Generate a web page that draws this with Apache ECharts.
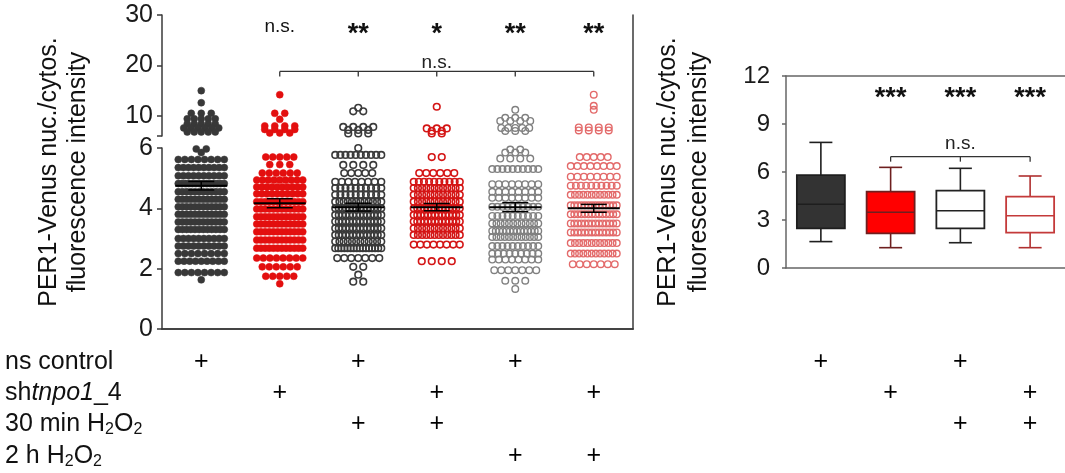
<!DOCTYPE html>
<html><head><meta charset="utf-8">
<script src="https://cdn.jsdelivr.net/npm/echarts@6/dist/echarts.min.js"></script>
<style>html,body{margin:0;padding:0;background:#fff}#c{width:1065px;height:473px}</style>
</head><body><div id="c"></div>
<script>
// ---------------- DATA ----------------
const groups = ['ns control', 'shtnpo1_4', 'ns control + 30 min H2O2', 'shtnpo1_4 + 30 min H2O2', 'ns control + 2 h H2O2', 'shtnpo1_4 + 2 h H2O2'];

// beeswarm rows: value of each row and number of cells in it
const g1Values = [15.0, 12.6, 10.5, 9.4, 8.4, 7.6, 6.8, 5.97, 5.85, 5.62, 5.35, 5.08, 4.82, 4.55, 4.3, 4.05, 3.8, 3.55, 3.3, 3.0, 2.75, 2.5, 2.25, 1.87, 1.63];
const g1Counts = [1, 1, 3, 5, 5, 6, 5, 2, 1, 8, 10, 10, 14, 12, 12, 12, 12, 12, 12, 10, 10, 8, 9, 8, 1];

const g2Values = [14.2, 10.5, 9.3, 8.0, 7.3, 6.6, 5.7, 5.45, 5.17, 4.94, 4.71, 4.48, 4.22, 3.98, 3.72, 3.48, 3.22, 2.95, 2.68, 2.35, 2.06, 1.75, 1.5];
const g2Counts = [1, 2, 1, 4, 4, 3, 5, 3, 6, 9, 10, 10, 12, 12, 12, 12, 12, 12, 12, 8, 6, 5, 1];

const g3Values = [11.6, 10.9, 7.8, 7.2, 6.5, 6.0, 5.77, 5.44, 5.17, 4.88, 4.67, 4.45, 4.22, 4.0, 3.78, 3.56, 3.34, 3.12, 2.9, 2.68, 2.35, 2.06, 1.8, 1.57];
const g3Counts = [1, 2, 4, 3, 3, 1, 10, 4, 5, 8, 10, 10, 12, 14, 14, 14, 14, 14, 12, 16, 7, 2, 1, 2];

const g4Values = [11.8, 7.5, 7.0, 6.5, 5.7, 5.17, 4.88, 4.67, 4.45, 4.22, 4.0, 3.78, 3.56, 3.34, 3.12, 2.8, 2.25];
const g4Counts = [1, 3, 2, 2, 2, 6, 10, 12, 12, 12, 14, 14, 14, 12, 12, 8, 4];

const g5Values = [11.2, 9.6, 9.0, 7.6, 7.0, 5.95, 5.85, 5.65, 5.3, 4.8, 4.55, 4.35, 4.05, 3.75, 3.5, 3.25, 3.05, 2.75, 2.5, 2.3, 1.95, 1.6, 1.33];
const g5Counts = [1, 3, 4, 5, 3, 2, 3, 4, 10, 8, 8, 8, 10, 10, 12, 14, 12, 10, 9, 8, 7, 3, 1];

const g6Values = [14.2, 12.0, 11.2, 7.7, 7.1, 5.7, 5.4, 5.05, 4.75, 4.45, 4.1, 3.8, 3.5, 3.2, 2.85, 2.5, 2.15];
const g6Counts = [1, 1, 1, 4, 4, 5, 8, 8, 10, 12, 14, 14, 14, 14, 12, 12, 7];

const means = [4.75, 4.17, 4.04, 4.04, 4.04, 4.0];
const sems = [0.14, 0.15, 0.13, 0.12, 0.15, 0.13];
const leftSig = ['', 'n.s.', '**', '*', '**', '**'];
const leftBracket = [1, 5];           // n.s. comparison, groups 2..6
const leftBracketText = 'n.s.';

const upperTickLabels = [10, 20, 30];
const lowerTickLabels = [0, 2, 4, 6];

// box plot (right)
const boxCats = ['ns control', 'shtnpo1_4', 'ns control + 30 min H2O2', 'shtnpo1_4 + 30 min H2O2'];
const boxLow  = [1.65, 1.27, 1.58, 1.27];
const boxQ1   = [2.48, 2.17, 2.48, 2.21];
const boxMed  = [3.98, 3.48, 3.58, 3.27];
const boxQ3   = [5.81, 4.77, 4.83, 4.46];
const boxHigh = [7.85, 6.29, 6.23, 5.75];
const rightSig = ['', '***', '***', '***'];
const rightBracket = [1, 3];
const rightBracketText = 'n.s.';
const rightTickLabels = [0, 3, 6, 9, 12];

// treatment table
const rowLabels = ['ns control', 'sh{i|tnpo1}_4', '30 min H{s|2}O{s|2}', '2 h H{s|2}O{s|2}'];
const leftPlus = [[1,0,1,0,1,0],[0,1,0,1,0,1],[0,0,1,1,0,0],[0,0,0,0,1,1]];
const rightPlus = [[1,0,1,0],[0,1,0,1],[0,0,1,1],[0,0,0,0]];

// ---------------- STYLE / LAYOUT ----------------
const FONT = "'Liberation Sans', Arial, sans-serif";
const AX = '#3a3a3a';
const dotStyles = [
  {fill: '#383838', stroke: '#383838', lw: 0.5, r: 3.5},
  {fill: '#e30f0f', stroke: '#e30f0f', lw: 0.5, r: 3.5},
  {fill: 'none', stroke: '#3a3a3a', lw: 1.6, r: 3.3},
  {fill: 'none', stroke: '#d41515', lw: 1.6, r: 3.3},
  {fill: 'none', stroke: '#808080', lw: 1.4, r: 3.3},
  {fill: 'none', stroke: '#e36a6a', lw: 1.4, r: 3.3}
];
const boxStyles = [
  {fill: '#333333', stroke: '#1e1e1e', wh: '#1e1e1e'},
  {fill: '#ff0000', stroke: '#6e1f1f', wh: '#6e1f1f'},
  {fill: '#ffffff', stroke: '#222222', wh: '#222222'},
  {fill: '#ffffff', stroke: '#c43a3a', wh: '#b03030'}
];
const rowY = [362, 393, 424, 456];

const allValues = [g1Values, g2Values, g3Values, g4Values, g5Values, g6Values];
const allCounts = [g1Counts, g2Counts, g3Counts, g4Counts, g5Counts, g6Counts];
const BREAK = 6;
const upperDots = [], lowerDots = [];
allValues.forEach((vals, g) => {
  vals.forEach((v, j) => {
    const n = allCounts[g][j];
    const sp = n <= 4 ? 10 : Math.min(7, 46 / (n - 1));
    for (let k = 0; k < n; k++) {
      const off = (k - (n - 1) / 2) * sp;
      (v > BREAK ? upperDots : lowerDots).push([g, v, off, g]);
    }
  });
});

function dotItem(params, api) {
  const c = api.coord([api.value(0), api.value(1)]);
  const st = dotStyles[api.value(3)];
  return {type: 'circle', shape: {cx: c[0] + api.value(2), cy: c[1], r: st.r},
    style: {fill: st.fill, stroke: st.stroke, lineWidth: st.lw}};
}
function tstyle(text, font, fill, align) {
  return {text: text, font: font, fill: fill || '#000', align: align || 'center', verticalAlign: 'middle',
    textAlign: align || 'center', textVerticalAlign: 'middle'};
}
function ln(x1, y1, x2, y2, color, w) {
  return {type: 'line', shape: {x1: x1, y1: y1, x2: x2, y2: y2}, style: {stroke: color, lineWidth: w}};
}
function bracketItem(from, to, level, text, textLevel) {
  return function (params, api) {
    const ch = [];
    const a = api.coord([from, level]), b = api.coord([to, level]);
    ch.push(ln(a[0], a[1], b[0], b[1], '#333', 1.3));
    for (let i = from; i <= to; i++) {
      const p = api.coord([i, level]);
      ch.push(ln(p[0], p[1], p[0], p[1] + 5, '#333', 1.3));
    }
    const t = api.coord([(from + to) / 2, textLevel]);
    ch.push({type: 'text', x: t[0], y: t[1], style: tstyle(text, '19px ' + FONT, '#222')});
    return {type: 'group', children: ch};
  };
}
function sigItem(labels, level) {
  return function (params, api) {
    const s = labels[params.dataIndex];
    if (!s) return null;
    const c = api.coord([api.value(0), level]);
    const isStar = s.indexOf('*') >= 0;
    const font = isStar ? 'bold 27px ' + FONT : '19px ' + FONT;
    return {type: 'text', x: c[0], y: c[1] + (isStar ? 7 : 0), style: tstyle(s, font, '#111')};
  };
}
function plusItem(table) {
  return function (params, api) {
    const ch = [];
    const col = api.value(0);
    const c = api.coord([col, 0]);
    table.forEach((row, r) => {
      if (row[col]) ch.push({type: 'text', x: c[0], y: rowY[r], style: tstyle('+', '25px ' + FONT, '#000')});
    });
    return {type: 'group', children: ch};
  };
}

const LEFT = 162, LW = 471, UT = 15, UH = 121, LT = 148, LH = 181;
const axisLbl = {fontFamily: FONT, fontSize: 25, color: '#1a1a1a', margin: 9};
const hidden = {show: false};

const option = {
  animation: false,
  grid: [
    {left: LEFT, width: LW, top: UT, height: UH},          // 0 upper
    {left: LEFT, width: LW, top: LT, height: LH},          // 1 lower
    {left: LEFT, width: LW, top: UT, height: LT + LH - UT}, // 2 frame
    {left: 786, width: 288, top: 76, height: 192}          // 3 box plot
  ],
  xAxis: [
    {gridIndex: 0, type: 'category', data: groups, axisLine: hidden, axisTick: hidden, axisLabel: hidden, splitLine: hidden},
    {gridIndex: 1, type: 'category', data: groups, axisLine: {lineStyle: {color: AX, width: 1.5}},
      axisTick: {alignWithLabel: true, length: 5, lineStyle: {color: AX, width: 1.5}}, axisLabel: hidden, splitLine: hidden},
    {gridIndex: 2, type: 'category', data: groups, position: 'top', axisLine: {lineStyle: {color: AX, width: 1.5}}, axisTick: hidden, axisLabel: hidden},
    {gridIndex: 3, type: 'category', data: boxCats, axisLine: {lineStyle: {color: '#666', width: 1.5}},
      axisTick: {alignWithLabel: true, length: 5, lineStyle: {color: '#666', width: 1.5}}, axisLabel: hidden},
    {gridIndex: 3, type: 'category', data: boxCats, position: 'top', axisLine: {lineStyle: {color: '#666', width: 1.5}}, axisTick: hidden, axisLabel: hidden}
  ],
  yAxis: [
    {gridIndex: 0, type: 'value', min: 6, max: 30, axisLine: {show: true, lineStyle: {color: AX, width: 1.5}},
      axisTick: {show: true, length: 5, customValues: [6].concat(upperTickLabels), lineStyle: {color: AX, width: 1.5}},
      axisLabel: Object.assign({customValues: upperTickLabels}, axisLbl), splitLine: hidden},
    {gridIndex: 1, type: 'value', min: 0, max: 6, interval: 2, axisLine: {show: true, lineStyle: {color: AX, width: 1.5}},
      axisTick: {show: true, length: 5, customValues: lowerTickLabels, lineStyle: {color: AX, width: 1.5}},
      axisLabel: Object.assign({customValues: lowerTickLabels}, axisLbl), splitLine: hidden},
    {gridIndex: 2, type: 'value', min: 0, max: 1, position: 'right', axisLine: {show: true, lineStyle: {color: AX, width: 1.5}},
      axisTick: hidden, axisLabel: hidden, splitLine: hidden},
    {gridIndex: 3, type: 'value', min: 0, max: 12, interval: 3, axisLine: {show: true, lineStyle: {color: '#666', width: 1.5}},
      axisTick: {show: true, length: 4, customValues: rightTickLabels, lineStyle: {color: '#666', width: 1.5}},
      axisLabel: {customValues: rightTickLabels, fontFamily: FONT, fontSize: 24, color: '#1a1a1a', margin: 16}, splitLine: hidden}
  ],
  series: [
    {type: 'custom', xAxisIndex: 0, yAxisIndex: 0, data: upperDots, renderItem: dotItem, clip: false, silent: true},
    {type: 'custom', xAxisIndex: 1, yAxisIndex: 1, data: lowerDots, renderItem: dotItem, clip: false, silent: true},
    {type: 'custom', xAxisIndex: 1, yAxisIndex: 1, silent: true, clip: false,
      data: means.map((m, i) => [i, m, sems[i]]),
      renderItem: function (params, api) {
        const i = api.value(0), m = api.value(1), s = api.value(2);
        const c = api.coord([i, m]), t = api.coord([i, m + s]), b = api.coord([i, m - s]);
        return {type: 'group', children: [
          ln(c[0] - 26, c[1], c[0] + 26, c[1], '#000', 2),
          ln(c[0], t[1], c[0], b[1], '#000', 1.5),
          ln(c[0] - 13, t[1], c[0] + 13, t[1], '#000', 1.5),
          ln(c[0] - 13, b[1], c[0] + 13, b[1], '#000', 1.5)
        ]};
      }},
    {type: 'custom', xAxisIndex: 0, yAxisIndex: 0, silent: true, clip: false,
      data: leftSig.map((s, i) => [i]), renderItem: sigItem(leftSig, 27.6)},
    {type: 'custom', xAxisIndex: 0, yAxisIndex: 0, silent: true, clip: false,
      data: [[0]], renderItem: bracketItem(leftBracket[0], leftBracket[1], 18.8, leftBracketText, 20.6)},
    {type: 'custom', xAxisIndex: 1, yAxisIndex: 1, silent: true, clip: false,
      data: groups.map((g, i) => [i]), renderItem: plusItem(leftPlus)},
    // box plot
    {type: 'custom', xAxisIndex: 3, yAxisIndex: 3, silent: true, clip: false,
      data: boxCats.map((c, i) => [i, boxLow[i], boxQ1[i], boxMed[i], boxQ3[i], boxHigh[i]]),
      renderItem: function (params, api) {
        const i = api.value(0), st = boxStyles[i];
        const lo = api.coord([i, api.value(1)]), q1 = api.coord([i, api.value(2)]), md = api.coord([i, api.value(3)]),
              q3 = api.coord([i, api.value(4)]), hi = api.coord([i, api.value(5)]);
        const x = lo[0], hw = 24, cw = 11.5;
        return {type: 'group', children: [
          ln(x, hi[1], x, q3[1], st.wh, 1.6),
          ln(x, q1[1], x, lo[1], st.wh, 1.6),
          ln(x - cw, hi[1], x + cw, hi[1], st.wh, 1.6),
          ln(x - cw, lo[1], x + cw, lo[1], st.wh, 1.6),
          {type: 'rect', shape: {x: x - hw, y: q3[1], width: 2 * hw, height: q1[1] - q3[1]},
            style: {fill: st.fill, stroke: st.stroke, lineWidth: 1.8}},
          ln(x - hw, md[1], x + hw, md[1], st.stroke, 1.6)
        ]};
      }},
    {type: 'custom', xAxisIndex: 3, yAxisIndex: 3, silent: true, clip: false,
      data: rightSig.map((s, i) => [i]), renderItem: sigItem(rightSig, 11.0)},
    {type: 'custom', xAxisIndex: 3, yAxisIndex: 3, silent: true, clip: false,
      data: [[0]], renderItem: bracketItem(rightBracket[0], rightBracket[1], 6.96, rightBracketText, 7.75)},
    {type: 'custom', xAxisIndex: 3, yAxisIndex: 3, silent: true, clip: false,
      data: boxCats.map((g, i) => [i]), renderItem: plusItem(rightPlus)}
  ],
  graphic: [
    {type: 'text', x: 64, y: 172, rotation: Math.PI / 2, silent: true,
      style: Object.assign(tstyle('PER1-Venus nuc./cytos.\nfluorescence intensity', '25px ' + FONT, '#111'), {lineHeight: 29})},
    {type: 'text', x: 684, y: 172, rotation: Math.PI / 2, silent: true,
      style: Object.assign(tstyle('PER1-Venus nuc./cytos.\nfluorescence intensity', '25px ' + FONT, '#111'), {lineHeight: 31})}
  ].concat(rowLabels.map((t, r) => ({
    type: 'text', x: 5, y: rowY[r], silent: true,
    style: Object.assign(tstyle(t, '25px ' + FONT, '#111', 'left'), {
      rich: {i: {fontStyle: 'italic', fontSize: 25, fontFamily: FONT, fill: '#111', color: '#111'},
             s: {fontSize: 16, fontFamily: FONT, fill: '#111', color: '#111', padding: [11, 0, 0, 0]}}})
  })))
};

const chart = echarts.init(document.getElementById('c'), null, {renderer: 'canvas'});
chart.setOption(option);
</script>
</body></html>
